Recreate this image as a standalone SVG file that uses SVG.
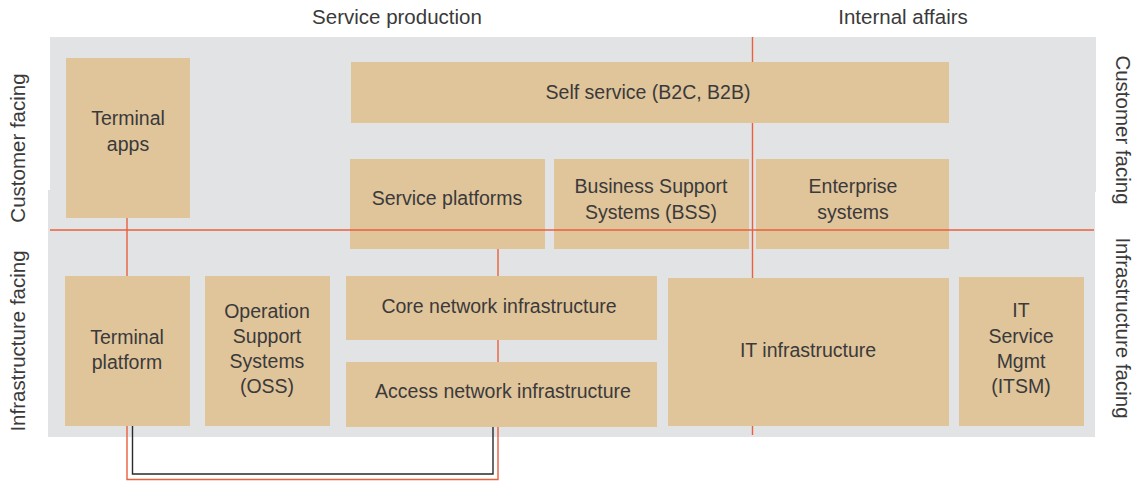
<svg xmlns="http://www.w3.org/2000/svg" width="1138" height="481" viewBox="0 0 1138 481">
<style>
.bg{fill:#e2e3e5}
.box{fill:#e0c49a}
.t{font-family:"Liberation Sans",Arial,sans-serif;font-size:19.5px;fill:#3a3a3a;text-anchor:middle}
.h{font-family:"Liberation Sans",Arial,sans-serif;font-size:20.5px;fill:#3a3a3a;text-anchor:middle}
.o{stroke:#e8603c;stroke-width:1.4;fill:none}
.k{stroke:#2a2a2a;stroke-width:1.4;fill:none}
</style>
<g id="background">
<rect class="bg" x="50" y="37" width="1046" height="155"/>
<rect class="bg" x="48" y="190" width="1047" height="247"/>
</g>
<g id="headers">
<text class="h" x="397" y="24">Service production</text>
<text class="h" x="903" y="24">Internal affairs</text>
<text class="h" transform="translate(25,148) rotate(-90)">Customer facing</text>
<text class="h" transform="translate(25,341) rotate(-90)">Infrastructure facing</text>
<text class="h" transform="translate(1116,130) rotate(90)">Customer facing</text>
<text class="h" transform="translate(1116,328) rotate(90)">Infrastructure facing</text>
</g>
<g id="column-line">
<line class="o" x1="752.5" y1="37" x2="752.5" y2="435"/>
</g>
<g id="connectors">
<line class="o" x1="127" y1="218" x2="127" y2="276"/>
<line class="o" x1="498" y1="249" x2="498" y2="276"/>
<line class="o" x1="498" y1="340" x2="498" y2="362"/>
<polyline class="o" points="127,426 127,479.5 498,479.5 498,426"/>
<polyline class="k" points="132.5,426 132.5,474 493,474 493,426"/>
</g>
<g id="terminal-apps"><rect class="box" x="66" y="58" width="124" height="160"/><text class="t" x="128" y="125">Terminal</text><text class="t" x="128" y="151">apps</text></g>
<g id="terminal-platform"><rect class="box" x="65" y="276" width="125" height="150"/><text class="t" x="127" y="344">Terminal</text><text class="t" x="127" y="369">platform</text></g>
<g id="oss"><rect class="box" x="205" y="276" width="125" height="150"/><text class="t" x="267" y="318">Operation</text><text class="t" x="267" y="343">Support</text><text class="t" x="267" y="368">Systems</text><text class="t" x="267" y="393">(OSS)</text></g>
<g id="self-service"><rect class="box" x="351" y="62" width="598" height="61"/><text class="t" x="648" y="99">Self service (B2C, B2B)</text></g>
<g id="service-platforms"><rect class="box" x="350" y="159" width="195" height="90"/><text class="t" x="447" y="205">Service platforms</text></g>
<g id="bss"><rect class="box" x="554" y="159" width="195" height="90"/><text class="t" x="651" y="193">Business Support</text><text class="t" x="651" y="219">Systems (BSS)</text></g>
<g id="enterprise"><rect class="box" x="756" y="159" width="193" height="90"/><text class="t" x="853" y="193">Enterprise</text><text class="t" x="853" y="219">systems</text></g>
<g id="core-network"><rect class="box" x="346" y="276" width="311" height="64"/><text class="t" x="499" y="313">Core network infrastructure</text></g>
<g id="access-network"><rect class="box" x="346" y="362" width="311" height="65"/><text class="t" x="503" y="398">Access network infrastructure</text></g>
<g id="it-infrastructure"><rect class="box" x="668" y="278" width="281" height="148"/><text class="t" x="808" y="357">IT infrastructure</text></g>
<g id="itsm"><rect class="box" x="959" y="277" width="125" height="149"/><text class="t" x="1021" y="317">IT</text><text class="t" x="1021" y="343">Service</text><text class="t" x="1021" y="368">Mgmt</text><text class="t" x="1021" y="393">(ITSM)</text></g>
<g id="row-line">
<line class="o" x1="50" y1="230" x2="1094" y2="230"/>
</g>
</svg>
